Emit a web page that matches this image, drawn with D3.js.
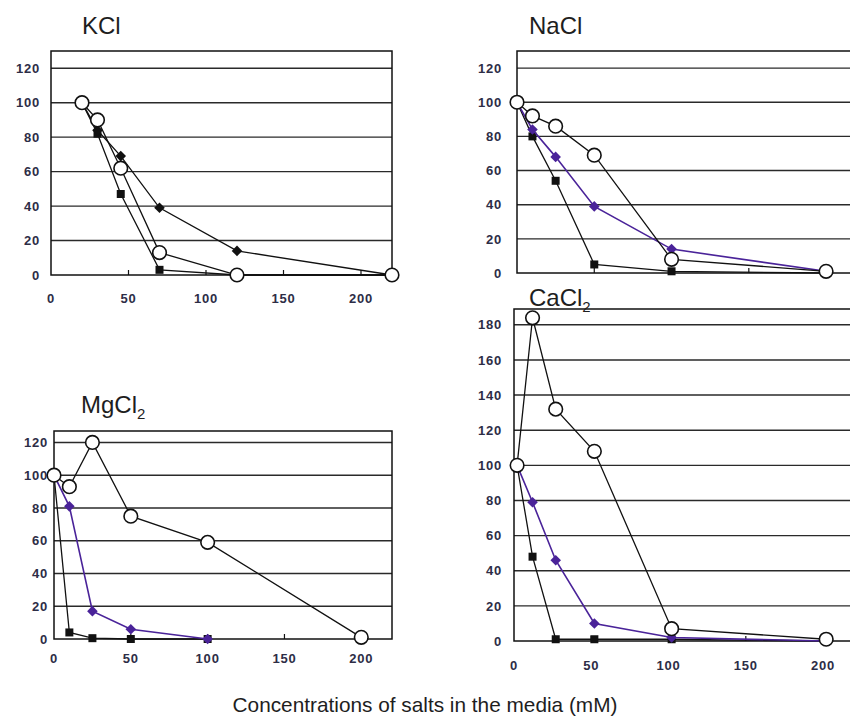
<!DOCTYPE html>
<html>
<head>
<meta charset="utf-8">
<script src="https://cdn.jsdelivr.net/npm/d3@7.9.0/dist/d3.min.js"></script>
<style>
  body { margin: 0; background: #fff; }
  svg { display: block; font-family: Arial, "Liberation Sans", sans-serif; }
  .tick-label { font-size: 13px; font-weight: bold; fill: #2d2d46; letter-spacing: 0.8px; }
  .title { font-size: 24px; fill: #1e1e1e; }
</style>
</head>
<body>
<svg id="chart" width="850" height="720"></svg>
<script>
// x values (mM) per salt
const kclX = [20, 30, 45, 70, 120, 220];
const naclX = [0, 10, 25, 50, 100, 200];
const mgX = [0, 10, 25, 50, 100, 200];
const caX = [2, 12, 27, 52, 102, 202];

// open circles, filled diamonds, filled squares
const kclCircle = [100, 90, 62, 13, 0, 0];
const kclDiamond = [100, 84, 69, 39, 14, 0];
const kclSquare = [100, 82, 47, 3, 0, 0];

const naclCircle = [100, 92, 86, 69, 8, 1];
const naclDiamond = [100, 84, 68, 39, 14, 1];
const naclSquare = [100, 80, 54, 5, 1, 0];

const mgCircle = [100, 93, 120, 75, 59, 1];
const mgDiamond = [100, 81, 17, 6, 0, null];
const mgSquare = [100, 4, 0.5, 0, 0, null];

const caCircle = [100, 184, 132, 108, 7, 1];
const caDiamond = [100, 79, 46, 10, 2, 0];
const caSquare = [100, 48, 1, 1, 1, 0];

const xTicks = [0, 50, 100, 150, 200];
const yTicks120 = [0, 20, 40, 60, 80, 100, 120];
const yTicks180 = [0, 20, 40, 60, 80, 100, 120, 140, 160, 180];

const purple = '#4a2399';
const svg = d3.select('#chart');

function drawPanel(p) {
    const x = d3.scaleLinear().domain([0, 220]).range([p.left, p.right]);
    const y = d3.scaleLinear().domain([0, p.yMax]).range([p.bottom, p.top]);
    const g = svg.append('g');

    // grid lines
    g.selectAll('.grid')
        .data(p.yTicks.filter(d => d > 0))
        .join('line')
        .attr('x1', p.left).attr('x2', p.right)
        .attr('y1', d => y(d)).attr('y2', d => y(d))
        .attr('stroke', '#2a2a2a').attr('stroke-width', 1.4);

    // frame
    g.append('rect')
        .attr('x', p.left).attr('y', p.top)
        .attr('width', p.right - p.left).attr('height', p.bottom - p.top)
        .attr('fill', 'none').attr('stroke', '#111').attr('stroke-width', 1.5);

    // inside x ticks
    g.selectAll('.xt')
        .data(xTicks.filter(d => d > 0))
        .join('line')
        .attr('x1', d => x(d)).attr('x2', d => x(d))
        .attr('y1', p.bottom).attr('y2', p.bottom - 5)
        .attr('stroke', '#111').attr('stroke-width', 1.2);

    // y labels
    g.selectAll('.yl')
        .data(p.yTicks)
        .join('text')
        .attr('class', 'tick-label')
        .attr('x', p.yLabelX)
        .attr('y', d => y(d))
        .attr('dy', '0.36em')
        .attr('text-anchor', 'end')
        .text(d => d);

    // x labels
    if (p.xLabelY) {
        g.selectAll('.xl')
            .data(xTicks)
            .join('text')
            .attr('class', 'tick-label')
            .attr('x', d => x(d))
            .attr('y', p.xLabelY)
            .attr('dy', '0.36em')
            .attr('text-anchor', 'middle')
            .text(d => d);
    }

    const line = d3.line()
        .defined(d => d[1] !== null)
        .x(d => x(d[0])).y(d => y(d[1]));

    p.series.forEach(s => {
        const pts = p.xs.map((v, i) => [v, s.values[i]]);
        g.append('path')
            .attr('d', line(pts))
            .attr('fill', 'none')
            .attr('stroke', s.color)
            .attr('stroke-width', s.color === purple ? 1.6 : 1.3);

        const shown = pts.filter(d => d[1] !== null);
        if (s.type === 'circle') {
            g.selectAll(null)
                .data(shown)
                .join('circle')
                .attr('cx', d => x(d[0])).attr('cy', d => y(d[1]))
                .attr('r', 6.8)
                .attr('fill', '#fff').attr('stroke', '#111').attr('stroke-width', 1.6);
        } else {
            // diamonds are squares turned by 45 degrees
            const sym = d3.symbol().type(d3.symbolSquare)
                .size(s.type === 'square' ? 64 : 56);
            const rot = s.type === 'square' ? 0 : 45;
            g.selectAll(null)
                .data(shown)
                .join('path')
                .attr('d', sym)
                .attr('transform', d => `translate(${x(d[0])},${y(d[1])}) rotate(${rot})`)
                .attr('fill', s.color);
        }
    });

    // title
    const t = svg.append('text')
        .attr('class', 'title')
        .attr('x', p.titleX).attr('y', p.titleY)
        .text(p.title);
    if (p.sub) {
        t.append('tspan').attr('dy', 6).attr('font-size', 15).text(p.sub);
    }
}

drawPanel({
    title: 'KCl', titleX: 82, titleY: 34,
    left: 51, right: 392, top: 51, bottom: 275, yMax: 130,
    yTicks: yTicks120, yLabelX: 40, xLabelY: 298, xs: kclX,
    series: [
        { values: kclSquare, type: 'square', color: '#111' },
        { values: kclDiamond, type: 'diamond', color: '#111' },
        { values: kclCircle, type: 'circle', color: '#111' }
    ]
});

drawPanel({
    title: 'NaCl', titleX: 529, titleY: 34,
    left: 517, right: 857, top: 51, bottom: 273, yMax: 130,
    yTicks: yTicks120, yLabelX: 502, xLabelY: null, xs: naclX,
    series: [
        { values: naclSquare, type: 'square', color: '#111' },
        { values: naclDiamond, type: 'diamond', color: purple },
        { values: naclCircle, type: 'circle', color: '#111' }
    ]
});

drawPanel({
    title: 'MgCl', sub: '2', titleX: 81, titleY: 413,
    left: 54, right: 392, top: 431, bottom: 639, yMax: 127,
    yTicks: yTicks120, yLabelX: 48, xLabelY: 658, xs: mgX,
    series: [
        { values: mgSquare, type: 'square', color: '#111' },
        { values: mgDiamond, type: 'diamond', color: purple },
        { values: mgCircle, type: 'circle', color: '#111' }
    ]
});

drawPanel({
    title: 'CaCl', sub: '2', titleX: 529, titleY: 306,
    left: 514, right: 854, top: 309, bottom: 641, yMax: 189,
    yTicks: yTicks180, yLabelX: 502, xLabelY: 665, xs: caX,
    series: [
        { values: caSquare, type: 'square', color: '#111' },
        { values: caDiamond, type: 'diamond', color: purple },
        { values: caCircle, type: 'circle', color: '#111' }
    ]
});

svg.append('text')
    .attr('x', 425).attr('y', 712)
    .attr('text-anchor', 'middle')
    .attr('font-size', 20.8)
    .attr('fill', '#1e1e1e')
    .text('Concentrations of salts in the media (mM)');
</script>
</body>
</html>
